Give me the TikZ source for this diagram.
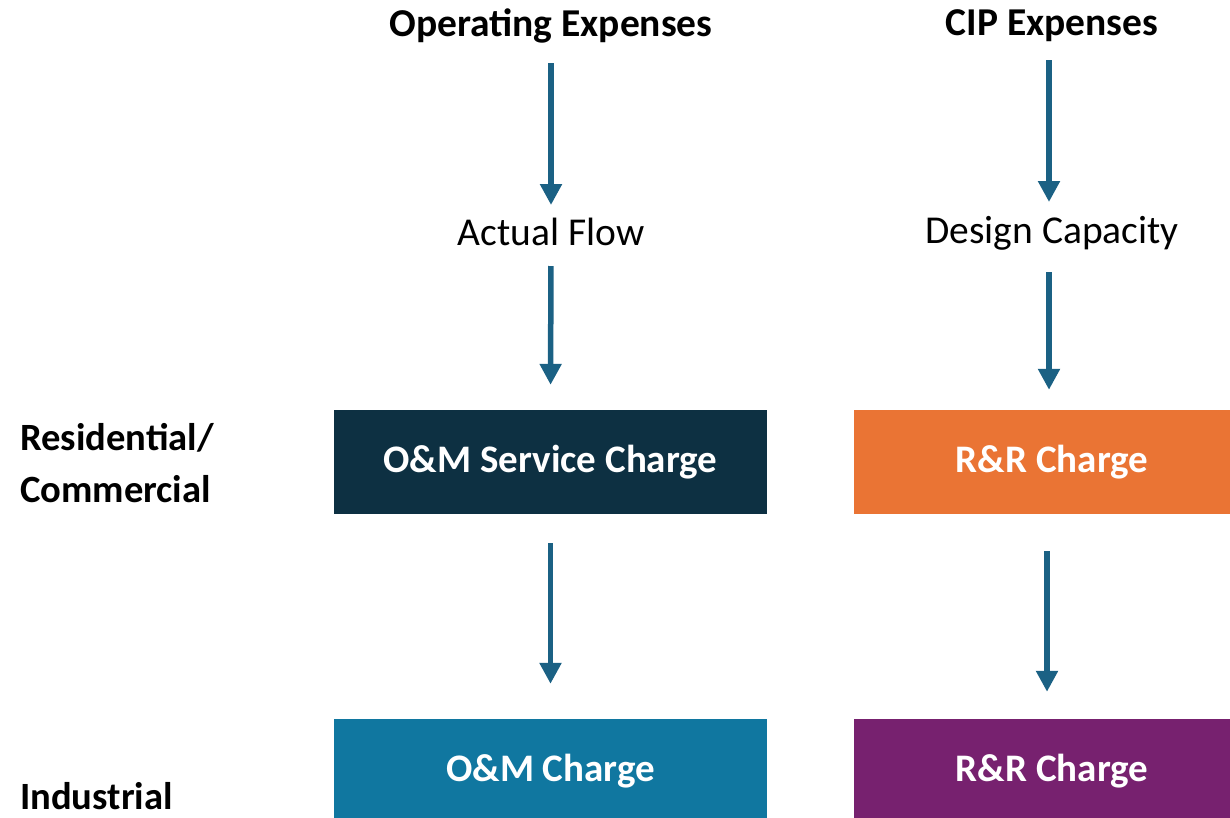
\documentclass[tikz,border=0pt]{standalone}
\usepackage{fontspec}
\setmainfont{Carlito}
\definecolor{arr}{HTML}{1B6184}
\definecolor{navy}{HTML}{0D3042}
\definecolor{orng}{HTML}{EA7434}
\definecolor{teal}{HTML}{1077A0}
\definecolor{purp}{HTML}{77216F}
\usetikzlibrary{arrows.meta}

\begin{document}
\begin{tikzpicture}[x=1pt,y=-1pt,
		head/.style={font=\fontsize{39.5}{46}\selectfont\bfseries},
		lbl/.style={font=\fontsize{39.5}{46}\selectfont},
		side/.style={font=\fontsize{38.6}{52}\selectfont\bfseries,anchor=west,align=left,inner sep=0pt},
		charge/.style={minimum height=104pt,inner sep=0pt,text=white,font=\fontsize{39}{46}\selectfont\bfseries},
		flow/.style={arr,line width=5.5pt,-{Triangle[width=21pt,length=21pt]}}]
			\useasboundingbox (0,0) rectangle (1230,817);
			\clip (0,0) rectangle (1230,817);

			\node[head] (opex) at (551,26) {Operating Expenses};
			\node[head] (cip) at (1052,26) {CIP Expenses};
			\node[lbl] (actual) at (551,232) {Actual Flow};
			\node[lbl] (design) at (1052,233) {Design Capacity};

			\node[charge,fill=navy,minimum width=433pt] (omsvc) at (550.5,462) {O\&M Service Charge};
			\node[charge,fill=orng,minimum width=396pt] (rrres) at (1052,462) {R\&R Charge};
			\node[charge,fill=teal,minimum width=433pt] (om) at (550.5,771) {O\&M Charge};
			\node[charge,fill=purp,minimum width=396pt] (rrind) at (1052,771) {R\&R Charge};

			\node[side] (res) at (20,463) {Residential/\\Commercial};
			\node[side,anchor=base west,text depth=0pt] (ind) at (20,809) {Industrial};

			\draw[flow,shorten <=37pt,shorten >=27pt] (opex.center) -- (actual.center);
			\draw[flow,shorten <=34pt,shorten >=25pt] (actual.center) -- (omsvc.north);
			\draw[flow,shorten <=29pt,shorten >=35pt] (omsvc.south) -- (om.north);

			\draw[flow,shorten <=34pt,shorten >=31pt] ([xshift=-3pt]cip.center) -- ([xshift=-3pt]design.center);
			\draw[flow,shorten <=39pt,shorten >=20pt] ([xshift=-3pt]design.center) -- ([xshift=-3pt]design.center |- rrres.north);
			\draw[flow,shorten <=37pt,shorten >=27pt] ([xshift=-5pt]design.center |- rrres.south) -- ([xshift=-5pt]design.center |- rrind.north);
		\end{tikzpicture}
\end{document}
